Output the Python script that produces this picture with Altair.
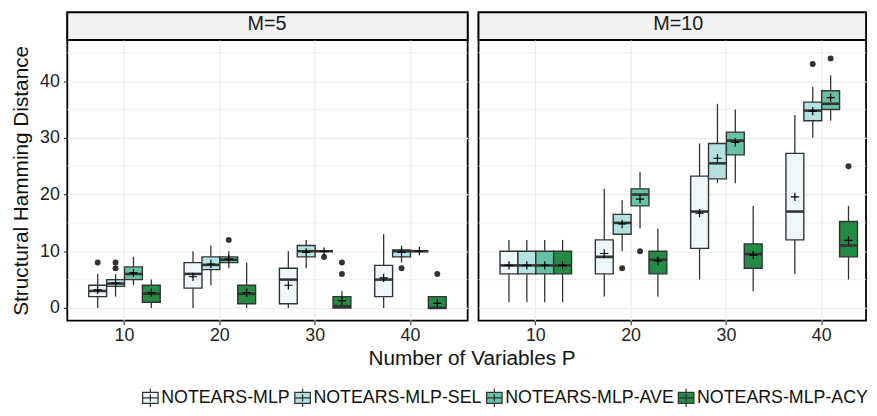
import altair as alt
import pandas as pd

# ---------------- data ----------------
methods = ["NOTEARS-MLP", "NOTEARS-MLP-SEL", "NOTEARS-MLP-AVE", "NOTEARS-MLP-ACY"]
colors = ["#EDF8FB", "#B2E2E2", "#66C2A4", "#238B45"]
p_levels = ["10", "20", "30", "40"]
panels = ["M=5", "M=10"]
y_ticks = [0, 10, 20, 30, 40]
minor_ticks = [5, 15, 25, 35, 45]

# rows ordered: panel -> P -> method
lo = [0, 2, 4, 0,   0, 4, 7, 0,   0, 7, 10, 0,   0, 8, 10, 0,
      1, 1, 1, 1,   2, 10, 14, 2,   5, 22, 22, 3,   6, 30, 33, 5]
q1 = [2, 3.8, 5, 1,   3.5, 6.75, 8, 0.75,   0.75, 9, 10, 0,   2, 9, 10, 0,
      6, 6, 6, 6,   6, 13, 18, 6,   10.5, 22.75, 27, 7,   12, 33, 35, 9]
med = [3, 4.3, 6, 2.5,   6, 7.6, 8.5, 2.5,   5, 10, 10, 0.3,   5, 10, 10, 0,
       7.5, 7.5, 7.5, 7.5,   9, 15, 20, 8.5,   17, 25.5, 29.5, 9.5,   17, 34.8, 36, 11]
q3 = [4, 5, 7.25, 4,   8, 9, 9, 4,   7, 11, 10, 2,   7.5, 10.25, 10, 2,
      10, 10, 10, 10,   12, 16.5, 21, 10,   23.25, 29, 31, 11.3,   27.25, 36.3, 38.3, 15.25]
hi = [6, 6, 9, 5,   10, 11, 10, 8,   10, 12, 10, 3,   13, 11, 10, 2,
      12, 12, 12, 12,   21, 19, 24, 14,   29, 36, 35, 18,   34, 39, 41, 18]
mean = [3.2, 4.4, 6.2, 2.7,   5.5, 7.75, 8.6, 2.7,   4.0, 9.8, 9.95, 1.3,   5.3, 9.8, 10, 0.8,
        7.5, 7.5, 7.5, 7.5,   9.6, 14.8, 19.2, 8.3,   16.7, 26.4, 29.2, 9.3,   19.6, 34.7, 37.1, 11.9]

out_panel = ["M=5"] * 9 + ["M=10"] * 5
out_p = ["10", "10", "10", "20", "30", "30", "30", "40", "40",
         "20", "20", "40", "40", "40"]
out_method = [methods[0], methods[1], methods[1], methods[2], methods[2], methods[3], methods[3],
              methods[1], methods[3],
              methods[1], methods[2], methods[1], methods[2], methods[3]]
out_val = [8, 8, 7, 12, 9, 8, 6, 7, 6,
           7, 10, 43, 44, 25]

# ---------------- tables ----------------
rows_panel, rows_p, rows_m = [], [], []
for pn in panels:
    for p in p_levels:
        for m in methods:
            rows_panel.append(pn)
            rows_p.append(p)
            rows_m.append(m)
stats = pd.DataFrame({"panel": rows_panel, "P": rows_p, "method": rows_m,
                      "lo": lo, "q1": q1, "med": med, "q3": q3, "hi": hi, "mean": mean})
outs = pd.DataFrame({"panel": out_panel, "P": out_p, "method": out_method, "v": out_val})
minor_df = pd.DataFrame({"v": minor_ticks})

FONT = "Liberation Sans"
DARK = "#333333"
GRID = "#EBEBEB"
H = 284
STRIP_H = 28
W_LEFT = 405
W_RIGHT = 392

yscale = alt.Scale(domain=[-2.25, 47.25], nice=False, zero=False)
cross = "M-1,0H1M0,-1V1"
legend_glyph = ("M-0.85,-0.6H0.85V0.6H-0.85Z M-0.85,0H0.85 "
                "M0,-1V-0.6 M0,0.6V1 M0,-0.4V0.4")


def make_panel(name, width, xscale, left):
    s = stats[stats.panel == name]
    o = outs[outs.panel == name]
    if left:
        yaxis = alt.Axis(values=y_ticks, title="Structural Hamming Distance", grid=True,
                         gridColor=GRID, gridWidth=1.2, titlePadding=8, labelPadding=4)
        xaxis = alt.Axis(title="Number of Variables P", labelAngle=0, bandPosition=0.5,
                         grid=True, gridColor=GRID, gridWidth=1.2, titleX=409,
                         titlePadding=3, labelPadding=2)
    else:
        yaxis = alt.Axis(values=y_ticks, title=None, grid=True, gridColor=GRID,
                         gridWidth=1.2, labels=False, ticks=False)
        xaxis = alt.Axis(title=None, labelAngle=0, bandPosition=0.5, grid=True,
                         gridColor=GRID, gridWidth=1.2, labelPadding=2)
    X = alt.X("P:N", sort=p_levels, scale=xscale, axis=xaxis)
    XO = alt.XOffset("method:N", sort=methods,
                     scale=alt.Scale(paddingInner=0, paddingOuter=0))

    minor = alt.Chart(minor_df).mark_rule(color=GRID, strokeWidth=0.8).encode(
        y=alt.Y("v:Q", scale=yscale, axis=yaxis))
    base = alt.Chart(s)
    whisk = base.mark_rule(color=DARK, strokeWidth=1.3).encode(
        x=X, xOffset=XO, y=alt.Y("lo:Q", scale=yscale, axis=yaxis), y2="hi:Q")
    box = base.mark_bar(stroke=DARK, strokeWidth=1.4, opacity=1).encode(
        x=X, xOffset=XO, y=alt.Y("q1:Q", scale=yscale, axis=yaxis), y2="q3:Q",
        fill=alt.Fill("method:N", sort=methods,
                      scale=alt.Scale(domain=methods, range=colors),
                      legend=alt.Legend(title=None, orient="none", legendX=74, legendY=380,
                                        direction="horizontal", columns=4,
                                        labelFontSize=18, labelFont=FONT, labelColor="#111",
                                        symbolType=legend_glyph, symbolSize=340,
                                        symbolStrokeColor=DARK, symbolStrokeWidth=1.3,
                                        columnPadding=1, labelOffset=1, labelLimit=400)))
    median = base.mark_tick(color=DARK, thickness=2.6, size=18, opacity=1).encode(
        x=X, xOffset=XO, y=alt.Y("med:Q", scale=yscale, axis=yaxis))
    outl = alt.Chart(o).mark_circle(color=DARK, size=36, opacity=1).encode(
        x=X, xOffset=XO, y=alt.Y("v:Q", scale=yscale, axis=yaxis))
    mn = base.mark_point(shape=cross, filled=False, stroke="black", strokeWidth=1.2,
                         size=70, opacity=1).encode(
        x=X, xOffset=XO, y=alt.Y("mean:Q", scale=yscale, axis=yaxis))
    return alt.layer(minor, whisk, box, median, outl, mn).properties(width=width, height=H)


def make_strip(name, width):
    d = pd.DataFrame({"label": [name]})
    bg = alt.Chart(d).mark_rect(fill="#F2F2F2", stroke="black", strokeWidth=1.8).encode(
        x=alt.value(0), x2=alt.value(width), y=alt.value(0), y2=alt.value(STRIP_H))
    tx = alt.Chart(d).mark_text(font=FONT, fontSize=20, color="#1a1a1a",
                                baseline="middle", align="center").encode(
        text="label:N", x=alt.value(202), y=alt.value(12))
    return alt.layer(bg, tx).properties(width=width, height=STRIP_H)


xs_left = alt.Scale(paddingInner=0.25, paddingOuter=0.225, align=0.5)
xs_right = alt.Scale(paddingInner=0.25, paddingOuter=0.158, align=0.714)

chart = alt.concat(
    make_strip("M=5", W_LEFT), make_strip("M=10", W_RIGHT),
    make_panel("M=5", W_LEFT, xs_left, True), make_panel("M=10", W_RIGHT, xs_right, False),
    columns=2, spacing={"row": 0, "column": 11}, bounds="flush",
).resolve_scale(x="independent", y="independent", color="shared").properties(
    padding={"left": 2, "top": 0, "right": 0, "bottom": 0}
).configure_view(stroke="black", strokeWidth=1.8).configure_axis(
    labelFont=FONT, titleFont=FONT, labelFontSize=18, titleFontSize=21,
    labelColor="#222222", titleColor="#111111", titleFontWeight="normal",
    tickColor=DARK, tickSize=4, tickWidth=1.1, domain=False
)

chart.save("out.html", embed_options={"renderer": "svg", "actions": False})
